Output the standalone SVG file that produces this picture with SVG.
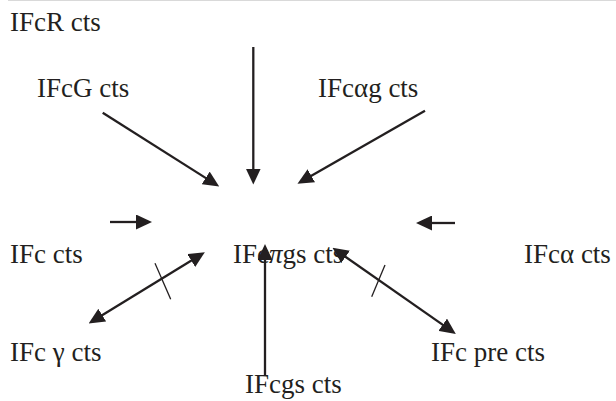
<svg xmlns="http://www.w3.org/2000/svg" width="616" height="401" viewBox="0 0 616 401">
<defs>
<style>
text{font-family:"Liberation Serif","DejaVu Serif","Times New Roman",serif;font-size:27px;fill:#231f20}
.c{stroke:#231f20;stroke-width:2.3;fill:none}
.tick{stroke:#231f20;stroke-width:1.3;fill:none}
.a{marker-end:url(#ah)}
.d{marker-start:url(#ah);marker-end:url(#ah)}
</style>
<marker id="ah" viewBox="0 0 16 15" refX="5" refY="7.5" markerWidth="16" markerHeight="15" markerUnits="userSpaceOnUse" orient="auto-start-reverse">
<path d="M0,0 L16,7.5 L0,15 z" fill="#231f20"/>
</marker>
</defs>
<rect width="616" height="401" fill="#fff"/>
<line x1="8" y1="0.5" x2="616" y2="0.5" stroke="#d9d9d9" stroke-width="1.2"/>
<g id="n-ifcr"><text font-family="Liberation Serif, DejaVu Serif, serif" x="10" y="31">IFcR cts</text></g>
<g id="n-ifcg"><text font-family="Liberation Serif, DejaVu Serif, serif" x="37" y="97">IFcG cts</text></g>
<g id="n-ifcag"><text font-family="Liberation Serif, DejaVu Serif, serif" x="318" y="97">IFcαg cts</text></g>
<g id="n-ifc"><text font-family="Liberation Serif, DejaVu Serif, serif" x="10" y="263">IFc cts</text></g>
<g id="n-center"><text font-family="Liberation Serif, DejaVu Serif, serif" x="233" y="263">IFc<tspan font-style="italic">π</tspan>gs cts</text></g>
<g id="n-ifca"><text font-family="Liberation Serif, DejaVu Serif, serif" x="524" y="263">IFcα cts</text></g>
<g id="n-ifcgamma"><text font-family="Liberation Serif, DejaVu Serif, serif" x="10" y="361">IFc γ cts</text></g>
<g id="n-ifcpre"><text font-family="Liberation Serif, DejaVu Serif, serif" x="431" y="361">IFc pre cts</text></g>
<g id="n-ifcgs"><text font-family="Liberation Serif, DejaVu Serif, serif" x="245" y="393">IFcgs cts</text></g>
<g id="connectors">
<line class="c a" x1="253.3" y1="47" x2="253.3" y2="173.5"/>
<line class="c a" x1="102.7" y1="112.7" x2="209.9" y2="180.6"/>
<line class="c a" x1="425" y1="110.7" x2="307" y2="178.3"/>
<line class="c a" x1="110" y1="222" x2="141" y2="222"/>
<line class="c a" x1="455" y1="223" x2="427" y2="223"/>
<line class="c d" x1="98" y1="317.8" x2="195.5" y2="257.9"/>
<line class="tick" x1="155" y1="263.3" x2="170.7" y2="299.3"/>
<line class="c a" x1="265" y1="375" x2="265" y2="255"/>
<line class="c d" x1="341.5" y1="254" x2="446.8" y2="327.6"/>
<line class="tick" x1="385" y1="265" x2="371.7" y2="296.7"/>
</g>
</svg>
